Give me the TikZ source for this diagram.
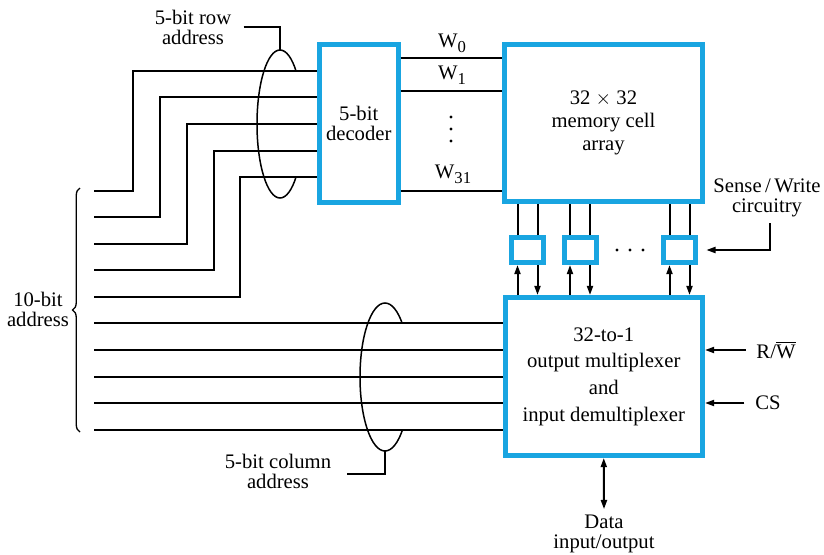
\documentclass[tikz,border=0pt]{standalone}
\usepackage{fontspec}
\setmainfont{Liberation Serif}
\usetikzlibrary{arrows.meta,decorations.pathreplacing}
\definecolor{cellblue}{RGB}{25,165,225}
\tikzset{
  block/.style={draw=cellblue, line width=3pt, rectangle, align=center, inner sep=0pt},
  wire/.style={line width=1.2pt},
  ring/.style={line width=0.9pt},
  arr/.style={wire, -{Triangle[length=5.5pt,width=3.6pt]}},
  dblarr/.style={wire, {Triangle[length=5.5pt,width=3.6pt]}-{Triangle[length=5.5pt,width=3.6pt]}},
  lbl/.style={align=center, font=\fontsize{12.4}{12}\selectfont},
}
\newcommand{\wname}[1]{W\raisebox{-3pt}{\fontsize{10}{10}\selectfont #1}}

\begin{document}
\begin{tikzpicture}[x=0.6pt, y=-0.6pt, font=\fontsize{12.4}{12}\selectfont]
\useasboundingbox (0,0) rectangle (824,555);

\node[block, minimum width=47.1pt, minimum height=94.5pt] (decoder) at (358.75,123.25) {5-bit\\decoder};
\node[block, minimum width=118.8pt, minimum height=93.9pt, font=\fontsize{12.4}{13.8}\selectfont] (array) at (603.5,122.75) {32 $\times$ 32\\memory cell\\array};
\node[block, minimum width=118.5pt, minimum height=94.8pt, font=\fontsize{12.4}{16}\selectfont] (mux) at (603.75,376.5) {32-to-1\\output multiplexer\\and\\input demultiplexer};

\node[block, minimum width=19.2pt, minimum height=15pt] (sw1) at (527.5,250) {};
\node[block, minimum width=19.2pt, minimum height=15pt] (sw2) at (580,250) {};
\node[block, minimum width=19.2pt, minimum height=15pt] (sw3) at (679.5,250) {};

\node[lbl] (rowlbl) at (193,27) {5-bit row\\address};
\node[lbl] (collbl) at (278,471) {5-bit column\\address};
\node[lbl] (addrlbl) at (38,309) {10-bit\\address};
\node[lbl] (swlbl) at (767,198) {Sense\,/\,Write\\circuitry};
\node (rw) at (776,350) {R/$\overline{\hbox{W}}$};
\node (cs) at (768,403) {CS};
\node[lbl] (data) at (604,534) {Data\\input/output};

\node (w0) at (452,43) {\wname{0}};
\node (w1) at (452,75) {\wname{1}};
\node (w31) at (453,174) {\wname{31}};

% row address wires
\foreach \ya/\xb/\yb [count=\i] in {191/133/71, 217/160/97, 244/187/124, 270/214/151, 297/240/177} {
  \coordinate (r\i) at (94,\ya);
  \draw[wire] (r\i) -| (\xb,\yb) -- (decoder.west |- 0,\yb);
}
% column address wires
\foreach \y [count=\i] in {323,350,377,403,430} {
  \coordinate (c\i) at (94,\y);
  \draw[wire] (c\i) -- (mux.west |- c\i);
}
\foreach \y in {58,91,191}
  \draw[wire] (decoder.east |- 0,\y) -- (array.west |- 0,\y);
\foreach \y in {117,129,141}
  \fill (451,\y) circle (1.7);
\foreach \x in {617,630,643}
  \fill (\x,250) circle (1.7);

\foreach \b in {sw1,sw2,sw3} {
  \draw[wire] ([xshift=-6pt]\b.north) -- ([xshift=-6pt]array.south -| \b.north);
  \draw[wire] ([xshift=6pt]\b.north) -- ([xshift=6pt]array.south -| \b.north);
  \draw[arr] ([xshift=-6pt]mux.north -| \b.south) -- ([xshift=-6pt]\b.south);
  \draw[arr] ([xshift=6pt]\b.south) -- ([xshift=6pt]mux.north -| \b.south);
}

\begin{scope}
  \clip (0,0) -- (824,0) -- (824,71) -- (280,71) -- (280,177) -- (824,177) -- (824,555) -- (0,555) -- cycle;
  \draw[ring] (280,124) ellipse [x radius=23, y radius=74];
\end{scope}
\begin{scope}
  \clip (0,0) -- (824,0) -- (824,323) -- (385,323) -- (385,430) -- (824,430) -- (824,555) -- (0,555) -- cycle;
  \draw[ring] (385,377) ellipse [x radius=25, y radius=74];
\end{scope}

\coordinate (rowtop) at (280,50);
\coordinate (colbot) at (385,451);
\coordinate (swtap) at (770,223);
\draw[wire] ([xshift=4pt]rowlbl.east) -| (rowtop);
\draw[wire] (colbot) |- ([xshift=6pt,yshift=-1.8pt]collbl.east);
\draw[arr, shorten >=5pt] (swtap) |- (sw3.east);
\draw[arr, shorten <=3pt] (rw.west) -- (mux.east |- rw.west);
\draw[arr, shorten <=3pt] (cs.west) -- (mux.east |- cs.west);
\draw[dblarr] (mux.south) -- (data.north);

\draw[line width=0.8pt, decorate, decoration={brace, amplitude=4.5pt}] (80,432) -- (80,188);
\end{tikzpicture}
\end{document}
